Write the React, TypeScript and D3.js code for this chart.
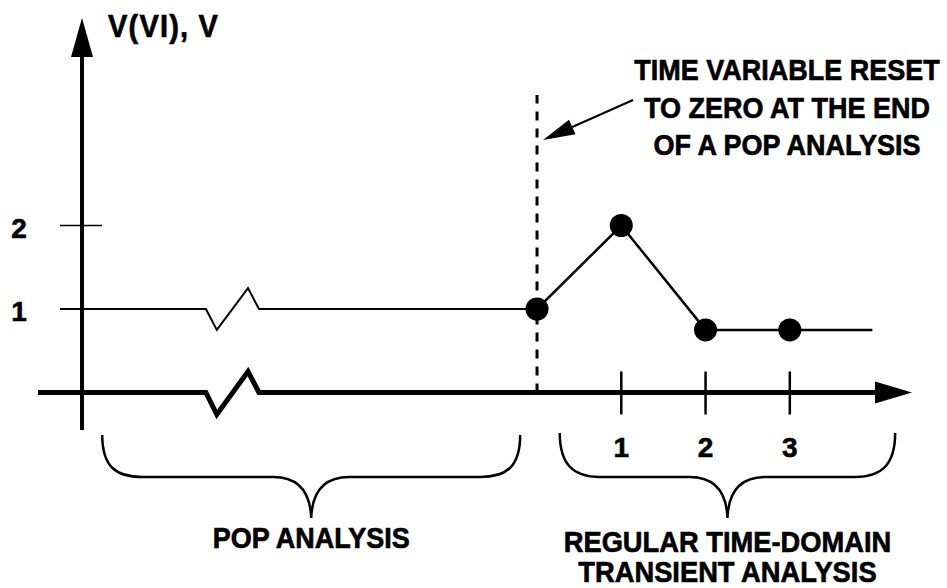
import React, { useEffect, useRef } from "react";
import * as d3 from "d3";

const width = 947;
const height = 588;

// transient analysis (time step -> volts)
const lineTimes = [0, 1, 2, 3, 3.98];
const lineVolts = [1, 2, 0.75, 0.75, 0.75];
const dotTimes = [0, 1, 2, 3];
const dotVolts = [1, 2, 0.75, 0.75];

// pop analysis level (drawn left of the reset)
const popTimes = [-5.66, -3.93, -3.8, -3.43, -3.3, 0];
const popVolts = [1, 1, 0.75, 1.25, 1, 1];

const yTicks = [1, 2];
const yTickLabels = ["1", "2"];
const xTicks = [1, 2, 3];
const xTickLabels = ["1", "2", "3"];

const noteLines = ["TIME VARIABLE RESET", "TO ZERO AT THE END", "OF A POP ANALYSIS"];
const popLabel = ["POP ANALYSIS"];
const transientLabel = ["REGULAR TIME-DOMAIN", "TRANSIENT ANALYSIS"];
const yAxisLabel = "V(VI), V";

const font = "'Liberation Sans', Arial, sans-serif";

const App = () => {
  const ref = useRef<SVGSVGElement>(null);

  useEffect(() => {
    document.body.style.margin = "0";
    const svg = d3.select(ref.current);
    svg.selectAll("*").remove();

    const x = d3.scaleLinear().domain([-5.4, 4.45]).range([82, 912]);
    const y = d3.scaleLinear().domain([0, 1]).range([392.5, 309]);
    const x0 = x(-5.4);
    const y0 = y(0);

    const g = svg.append("g");

    // bold label, stretched a little vertically like the original lettering
    const addText = (str: string, tx: number, ty: number, size: number, anchor = "middle", sy = 1.12) =>
      g.append("text")
        .attr("transform", `translate(${tx},${ty}) scale(1,${sy})`)
        .attr("text-anchor", anchor)
        .attr("font-family", font).attr("font-weight", "bold").attr("font-size", size)
        .attr("stroke", "#000").attr("stroke-width", 0.6).attr("fill", "#000")
        .text(str);

    // y axis with arrow
    g.append("line")
      .attr("x1", x0).attr("x2", x0)
      .attr("y1", 430).attr("y2", 56)
      .attr("stroke", "#000").attr("stroke-width", 4);
    g.append("path")
      .attr("d", `M${x0 - 11},57 L${x0 + 11},57 L${x0},18 Z`)
      .attr("fill", "#000");

    // x axis with break and arrow
    const bx = [x(-3.93), x(-3.8), x(-3.43), x(-3.3)];
    g.append("path")
      .attr("d", `M38,${y0} L${bx[0]},${y0} L${bx[1]},${y0 + 22} L${bx[2]},${y0 - 21} L${bx[3]},${y0} L876,${y0}`)
      .attr("fill", "none").attr("stroke", "#000").attr("stroke-width", 5)
      .attr("stroke-linejoin", "miter");
    g.append("path")
      .attr("d", `M875,${y0 - 11} L875,${y0 + 11} L912,${y0} Z`)
      .attr("fill", "#000");

    // y ticks
    g.selectAll(".ytick").data(yTicks).enter().append("line")
      .attr("x1", 60).attr("x2", 102)
      .attr("y1", (d) => y(d)).attr("y2", (d) => y(d))
      .attr("stroke", "#000").attr("stroke-width", 1.5);
    yTicks.forEach((d, i) => addText(yTickLabels[i], 19, y(d) + 12, 28, "middle", 1.02));

    // x ticks
    g.selectAll(".xtick").data(xTicks).enter().append("line")
      .attr("x1", (d) => x(d)).attr("x2", (d) => x(d))
      .attr("y1", y0 - 21).attr("y2", y0 + 22)
      .attr("stroke", "#000").attr("stroke-width", 2.5);
    xTicks.forEach((d, i) => addText(xTickLabels[i], x(d), 457, 28, "middle", 1.02));

    // pop analysis level
    const line = d3.line<number>().x((d, i) => x(popTimes[i])).y((d) => y(d));
    g.append("path")
      .attr("d", line(popVolts))
      .attr("fill", "none").attr("stroke", "#000").attr("stroke-width", 2);

    // reset marker
    g.append("line")
      .attr("x1", x(0)).attr("x2", x(0))
      .attr("y1", y0).attr("y2", 95)
      .attr("stroke", "#000").attr("stroke-width", 3)
      .attr("stroke-dasharray", "9,8");

    // transient waveform
    const tline = d3.line<number>().x((d, i) => x(lineTimes[i])).y((d) => y(d));
    g.append("path")
      .attr("d", tline(lineVolts))
      .attr("fill", "none").attr("stroke", "#000").attr("stroke-width", 2.5);
    g.selectAll(".dot").data(dotVolts).enter().append("circle")
      .attr("cx", (d, i) => x(dotTimes[i])).attr("cy", (d) => y(d))
      .attr("r", 11.5).attr("fill", "#000");

    // y axis title
    addText(yAxisLabel, 108, 37, 29, "start", 1.05).attr("letter-spacing", 1.2);

    // annotation
    noteLines.forEach((d, i) => addText(d, 787, 80 + i * 37.5, 27));

    const start: [number, number] = [633, 100];
    const tip: [number, number] = [x(0) + 6, 140];
    const dx = tip[0] - start[0];
    const dy = tip[1] - start[1];
    const len = Math.hypot(dx, dy);
    const ux = dx / len;
    const uy = dy / len;
    const bxC = tip[0] - 32 * ux;
    const byC = tip[1] - 32 * uy;
    g.append("line")
      .attr("x1", start[0]).attr("y1", start[1])
      .attr("x2", bxC).attr("y2", byC)
      .attr("stroke", "#000").attr("stroke-width", 2);
    g.append("path")
      .attr("d", `M${tip[0]},${tip[1]} L${bxC - uy * 8},${byC + ux * 8} L${bxC + uy * 8},${byC - ux * 8} Z`)
      .attr("fill", "#000");

    // braces
    const brace = (xl: number, xr: number, top: number) => {
      const xm = (xl + xr) / 2;
      const mid = 477;
      const tipY = 518;
      return `M${xl},${top} C${xl},${top + 32} ${xl + 14},${mid} ${xl + 40},${mid}
        L${xm - 38},${mid} C${xm - 14},${mid} ${xm - 1},${mid + 14} ${xm},${tipY}
        C${xm + 1},${mid + 14} ${xm + 14},${mid} ${xm + 38},${mid}
        L${xr - 40},${mid} C${xr - 14},${mid} ${xr},${top + 32} ${xr},${top}`;
    };
    g.append("path")
      .attr("d", brace(x(-5.16), x(-0.2), 435))
      .attr("fill", "none").attr("stroke", "#000").attr("stroke-width", 2.5);
    g.append("path")
      .attr("d", brace(x(0.27), x(4.25), 433))
      .attr("fill", "none").attr("stroke", "#000").attr("stroke-width", 2.5);

    popLabel.forEach((d) => addText(d, (x(-5.16) + x(-0.2)) / 2, 548, 27));
    transientLabel.forEach((d, i) => addText(d, (x(0.27) + x(4.25)) / 2, 552 + i * 30, 27.3, "middle", 1.08));
  }, []);

  return (
    <svg ref={ref} width={width} height={height} style={{ display: "block", background: "#fff" }} />
  );
};

export default App;
